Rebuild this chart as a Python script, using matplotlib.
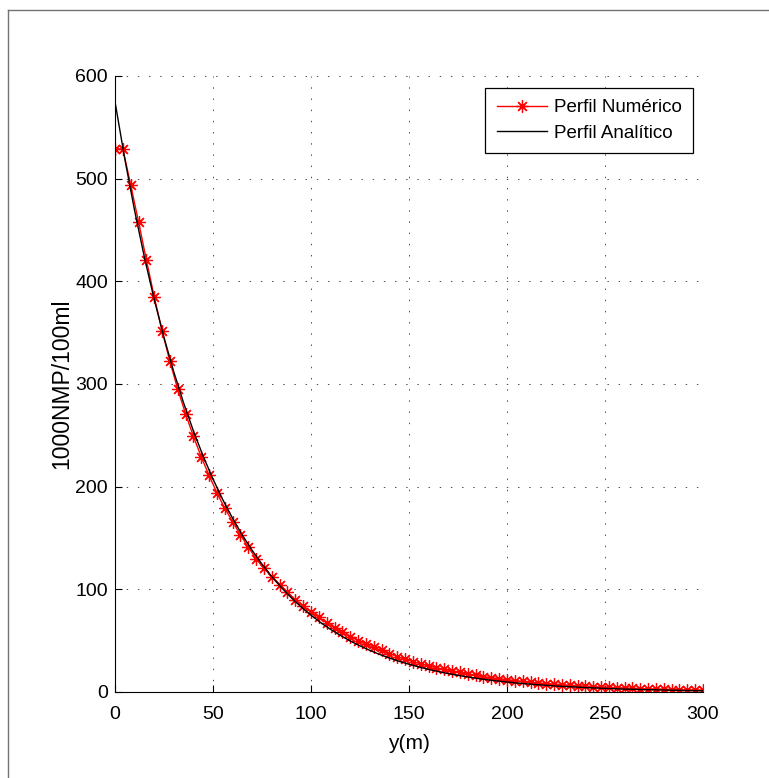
import numpy as np
import matplotlib
matplotlib.use('Agg')
from matplotlib import pyplot as plt
from matplotlib.lines import Line2D

plt.rcParams['font.family'] = ['Liberation Sans', 'DejaVu Sans']

# numerical profile, one point every 4 m
y_num = np.arange(0, 301, 4)
c_num = [529, 529, 494, 458, 421, 385, 352, 322, 295, 271,
         249, 229, 211, 194, 179, 166, 153, 141, 130, 121,
         112, 104.5, 97, 90, 84, 78, 73, 67.5, 62.5, 58,
         54, 50, 46.5, 43.5, 40.5, 37.5, 34.5, 32, 29.5, 27.5,
         25.5, 23.5, 22, 20.5, 19, 17.5, 16.2, 15, 14, 13,
         12, 11.1, 10.3, 9.5, 8.8, 8.2, 7.6, 7.0, 6.5, 6.0,
         5.6, 5.2, 4.8, 4.4, 4.1, 3.8, 3.5, 3.2, 3.0, 2.8,
         2.6, 2.4, 2.2, 2.0, 1.9, 1.8]

# analytical profile, read every 5 m
y_ana = np.arange(0, 301, 5)
c_ana = [575, 519.2, 468.9, 423.4, 382.4, 345.3, 311.8, 281.6, 254.3, 229.6,
         207.4, 187.3, 169.1, 152.7, 137.9, 124.5, 112.4, 101.5, 91.7, 82.8,
         74.8, 67.5, 61.0, 55.1, 49.7, 44.9, 40.6, 36.6, 33.1, 29.9,
         27.0, 24.4, 22.0, 19.9, 17.9, 16.2, 14.6, 13.2, 11.9, 10.8,
         9.7, 8.8, 7.9, 7.2, 6.5, 5.8, 5.3, 4.8, 4.3, 3.9,
         3.5, 3.2, 2.8, 2.6, 2.3, 2.1, 1.9, 1.7, 1.5, 1.4, 1.2]

x_ticks = [0, 50, 100, 150, 200, 250, 300]
y_ticks = [0, 100, 200, 300, 400, 500, 600]

fig = plt.figure(figsize=(7.69, 7.78), dpi=100)
ax = fig.add_axes([115 / 769, 1 - 692 / 778, 588 / 769, 616 / 778])

ax.plot(y_num, c_num, color='red', lw=1, marker=(8, 2, 0), markersize=9,
        markeredgewidth=0.9, label='Perfil Numérico')
ax.plot(y_ana, c_ana, color='black', lw=1, label='Perfil Analítico')

ax.set_xlim(0, 300)
ax.set_ylim(0, 600)
ax.set_xticks(x_ticks)
ax.set_yticks(y_ticks)
ax.tick_params(direction='in', length=5, width=0.8, labelsize=14, top=False, right=False)
ax.tick_params(axis='x', pad=10)
ax.tick_params(axis='y', pad=5)
ax.spines['top'].set_visible(False)
ax.spines['right'].set_visible(False)
ax.grid(True, color='0.3', lw=0.7, linestyle=(0, (1.5, 10)))

ax.set_xlabel('y(m)', fontsize=15)
ax.xaxis.set_label_coords(0.5, -0.083)
ax.xaxis.label.set_verticalalignment('center')
ax.set_ylabel('1000NMP/100ml', fontsize=16.5)
ax.yaxis.set_label_coords(-0.09, 0.5)
ax.yaxis.label.set_verticalalignment('center')

leg = ax.legend(loc='upper right', bbox_to_anchor=(1 - 10 / 588, 1 - 12 / 616),
                borderaxespad=0, fancybox=False, fontsize=13.5, handlelength=2.7,
                labelspacing=0.45, borderpad=0.6, handletextpad=0.35, framealpha=1)
leg.get_frame().set_edgecolor('black')
leg.get_frame().set_linewidth(0.9)

# figure frame (left and top edges visible)
fig.add_artist(Line2D([8 / 769, 8 / 769], [0, 1 - 10 / 778], transform=fig.transFigure,
                      color='0.45', lw=1))
fig.add_artist(Line2D([8 / 769, 1], [1 - 10 / 778, 1 - 10 / 778], transform=fig.transFigure,
                      color='0.45', lw=1))

fig.savefig('out.png', dpi=100)
